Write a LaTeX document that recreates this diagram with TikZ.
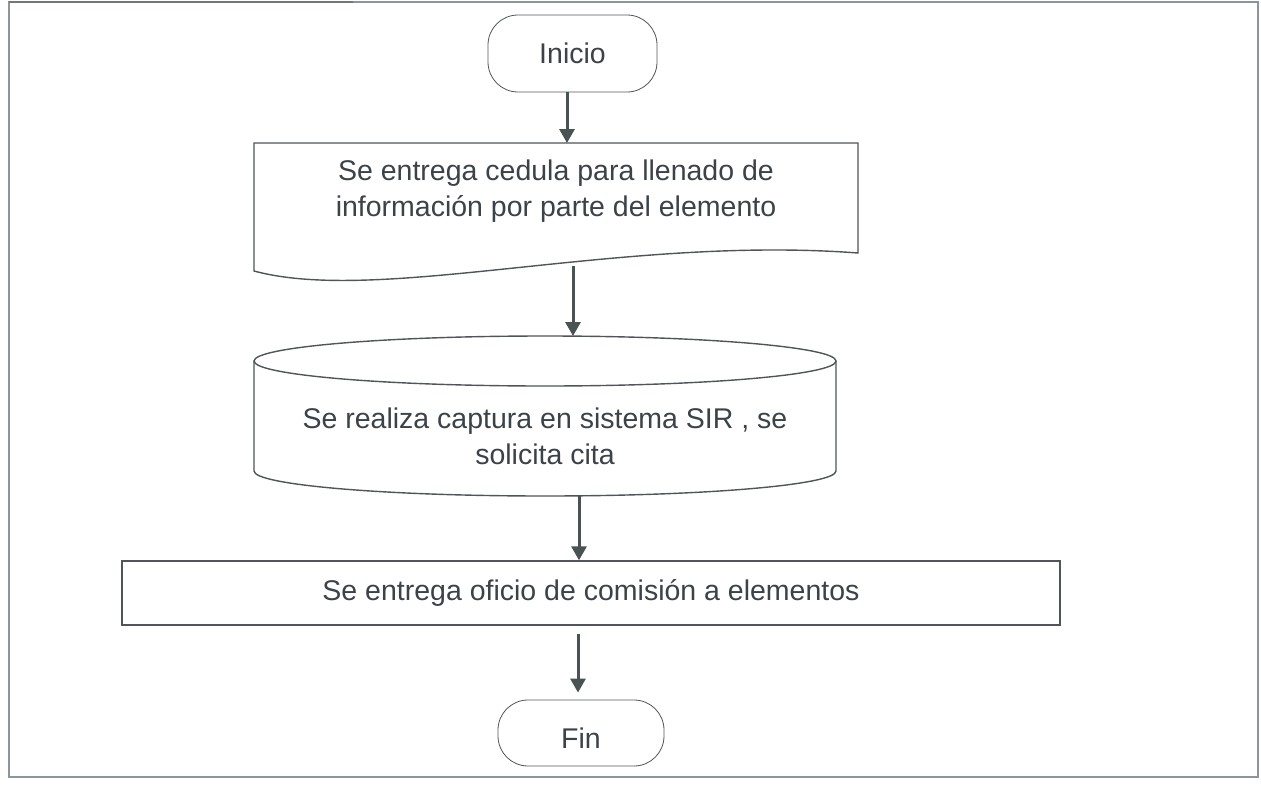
\documentclass[tikz,border=0pt]{standalone}
\usepackage{fontspec}
\setmainfont{Liberation Sans}
\usetikzlibrary{arrows.meta}
\definecolor{txt}{HTML}{3C4248}
\definecolor{edge}{HTML}{4F5558}
\definecolor{arrc}{HTML}{4A5353}
\definecolor{frame}{HTML}{8C949C}
\tikzset{
  lbl/.style={text=txt, font=\fontsize{28.5}{36}\selectfont, align=center, inner sep=0pt},
  term/.style={lbl, draw=edge, line width=0.8pt, rounded corners=30pt},
  procbox/.style={lbl, draw=edge, line width=1.4pt},
  shapeline/.style={draw=edge, line width=1.4pt},
  arr/.style={draw=arrc, line width=3pt, -{Triangle[width=15pt,length=14pt]}}
}
\begin{document}
\begin{tikzpicture}[x=1pt,y=-1pt]
\useasboundingbox (0,0) rectangle (1261,787);
% outer frame
\draw[frame, line width=2pt] (9,2) rectangle (1258,777);
\draw[edge!80, line width=2pt] (9,2) -- (353,2);

% Inicio
\node[term, minimum width=169pt, minimum height=77pt] (inicio) at (572.5,53.5) {Inicio};

% document shape
\coordinate (dTL) at (254,143);
\coordinate (dTR) at (858,143);
\coordinate (dBR) at (858,253);
\coordinate (dBL) at (254,271);
\draw[shapeline] (dBL) -- (dTL) -- (dTR) -- (dBR)
  .. controls (620,235) and (380,305) .. (dBL) -- cycle;
\node[lbl] (doc) at (556,191) {Se entrega cedula para llenado de\\información por parte del elemento};
\coordinate (docb) at (573,266);

% cylinder
\coordinate (cL) at (254,361);
\coordinate (cR) at (836,361);
\draw[shapeline] (545,361) ellipse [x radius=291pt, y radius=25pt];
\draw[shapeline] (cL) -- (254,471) arc[start angle=180, end angle=360, x radius=291pt, y radius=25pt] -- (cR);
\node[lbl] (cyl) at (545,436) {Se realiza captura en sistema SIR , se\\solicita cita};
\coordinate (cylt) at (573,336);
\coordinate (cylb) at (579,496);

% rectangle
\node[procbox, minimum width=938pt, minimum height=64pt] (ofi) at (591,593) {\raisebox{4pt}{Se entrega oficio de comisión a elementos}};

% Fin
\node[term, minimum width=166pt, minimum height=66pt] (fin) at (581,733) {};
\node[lbl] (fint) at (581,738) {Fin};

% connectors
\coordinate (x1) at (567,0);
\coordinate (x4) at (578,0);
\draw[arr] (x1 |- inicio.south) -- (x1 |- dTL);
\draw[arr] (docb) -- (cylt);
\draw[arr] (cylb) -- (cylb |- ofi.north);
\draw[arr] ([yshift=-8pt]x4 |- ofi.south) -- ([yshift=7pt]x4 |- fin.north);
\end{tikzpicture}
\end{document}
